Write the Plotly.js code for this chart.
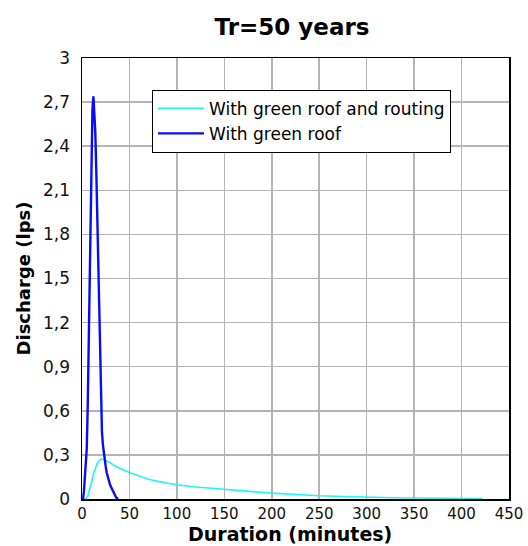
<!DOCTYPE html>
<html>
<head>
<meta charset="utf-8">
<script src="https://cdn.plot.ly/plotly-3.0.1.min.js"></script>
<style>
  html, body { margin: 0; padding: 0; background: #fff; }
  #chart { width: 528px; height: 546px; }
</style>
</head>
<body>
<div id="chart"></div>
<script>
// Hydrograph: green roof with routing (minutes vs discharge in lps)
const routedTime = [0, 4, 6, 8, 10, 12, 14, 16, 18, 20, 22, 25, 30, 35, 40, 50, 60, 70, 80, 90, 100,
  120, 140, 160, 180, 200, 225, 250, 275, 300, 340, 380, 422];
const routedFlow = [0, 0, 0.02, 0.06, 0.11, 0.17, 0.21, 0.24, 0.26, 0.27, 0.27, 0.262, 0.245, 0.225,
  0.208, 0.18, 0.155, 0.135, 0.12, 0.107, 0.097, 0.082, 0.07, 0.06, 0.05, 0.04, 0.03, 0.022,
  0.017, 0.012, 0.007, 0.005, 0.003];

// Hydrograph: green roof only
const roofTime = [0, 1, 2, 3, 4, 5, 6, 7, 8, 9, 10, 11, 12, 13, 14, 15, 16, 17, 18, 19, 20, 21, 22,
  23, 24, 25, 26, 27, 28, 29, 30, 32, 34, 36, 38];
const roofFlow = [0, 0, 0.05, 0.14, 0.24, 0.34, 0.62, 1.02, 1.5, 2.05, 2.45, 2.65, 2.74, 2.62, 2.5,
  2.25, 1.95, 1.55, 1.22, 0.92, 0.65, 0.46, 0.37, 0.31, 0.27, 0.22, 0.18, 0.15, 0.13, 0.11,
  0.09, 0.06, 0.03, 0.01, 0];

const seriesNames = ['With green roof and routing', 'With green roof'];
const yTickVals = [0, 0.3, 0.6, 0.9, 1.2, 1.5, 1.8, 2.1, 2.4, 2.7, 3];
const yTickText = ['0', '0,3', '0,6', '0,9', '1,2', '1,5', '1,8', '2,1', '2,4', '2,7', '3'];
const xTickVals = [0, 50, 100, 150, 200, 250, 300, 350, 400, 450];
const xTitle = 'Duration (minutes)';

const font = 'DejaVu Sans, Arial, sans-serif';

const traces = [
  { x: routedTime, y: routedFlow, name: seriesNames[0], mode: 'lines',
    line: { color: '#22f5f5', width: 1.6 } },
  { x: roofTime, y: roofFlow, name: seriesNames[1], mode: 'lines',
    line: { color: '#0a0aff', width: 2.4 } }
];

const layout = {
  width: 528, height: 546,
  margin: { l: 82, r: 19, t: 58, b: 47 },
  paper_bgcolor: '#fff', plot_bgcolor: '#fff',
  font: { family: font, color: '#000', size: 17 },
  title: { text: '<b>Tr=50 years</b>', x: 0.553, xanchor: 'center', y: 0.951, yanchor: 'middle',
    font: { family: font, size: 23, color: '#000' } },
  xaxis: {
    range: [0, 450], tickvals: xTickVals, ticks: '', showline: true, mirror: true,
    linecolor: '#000', linewidth: 1.5, showgrid: true, gridcolor: '#b4b4b4', gridwidth: 1.5,
    zeroline: false, tickfont: { size: 15, color: '#111' }, ticklabelstandoff: 0
  },
  yaxis: {
    range: [0, 3], tickvals: yTickVals, ticktext: yTickText, ticks: '', showline: true, mirror: true,
    linecolor: '#000', linewidth: 1.5, showgrid: true, gridcolor: '#b4b4b4', gridwidth: 1.5,
    zeroline: false, tickfont: { size: 17, color: '#111' }, ticklabelstandoff: 7,
    title: { text: '<b>Discharge (lps)</b>', standoff: 8, font: { size: 18 } }
  },
  // x-axis title sits tight under the tick labels, at the bottom edge
  annotations: [{
    text: '<b>' + xTitle + '</b>', xref: 'paper', yref: 'paper',
    x: 0.487, y: -47 / 441, xanchor: 'center', yanchor: 'bottom',
    showarrow: false, borderpad: 0, font: { family: font, size: 19, color: '#000' }
  }],
  showlegend: true,
  legend: {
    x: 0.164, y: 0.928, xanchor: 'left', yanchor: 'top',
    bgcolor: '#fff', bordercolor: '#000', borderwidth: 1,
    font: { family: font, size: 17 }, tracegroupgap: 0, itemwidth: 46,
    traceorder: 'normal'
  }
};

Plotly.newPlot('chart', traces, layout, { displayModeBar: false, staticPlot: true });
</script>
</body>
</html>
